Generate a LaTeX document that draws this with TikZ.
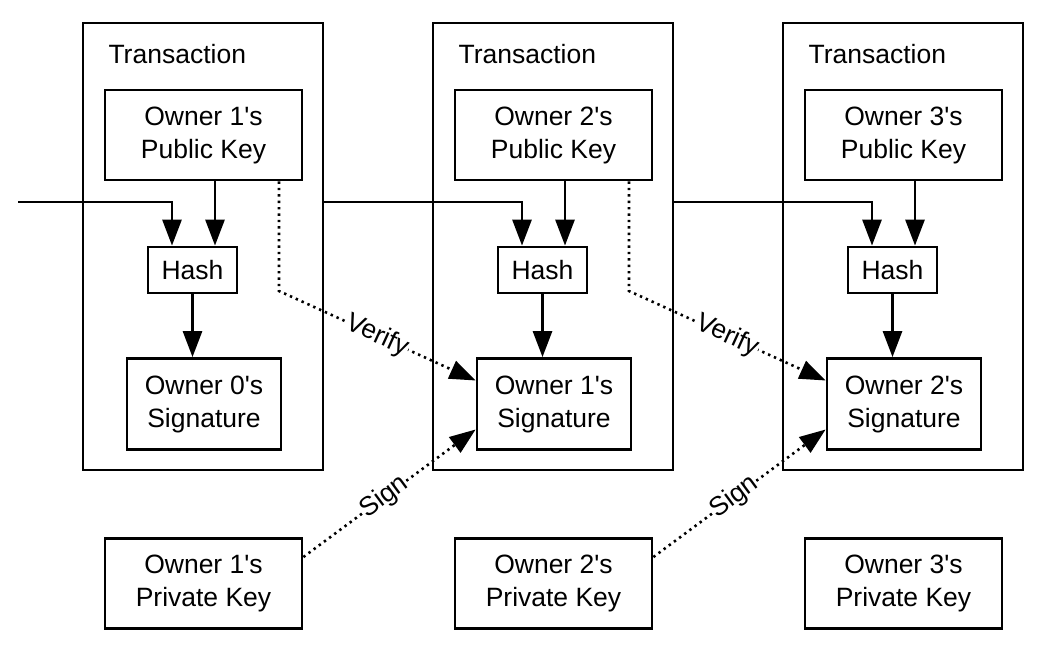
\documentclass[tikz,border=0pt]{standalone}
\usepackage{fontspec}
\setmainfont{Liberation Sans}
\usetikzlibrary{arrows.meta,calc}
\newcommand\tick{\textquotesingle}
\begin{document}
\begin{tikzpicture}[x=1pt,y=-1pt,
  every node/.style={font=\fontsize{26.5}{33}\selectfont},
  frame/.style={draw, line width=2.8pt, minimum width=240pt, minimum height=447pt, inner sep=0pt},
  keybox/.style={draw, line width=2.8pt, minimum width=197pt, minimum height=90pt, align=center, inner sep=0pt},
  hashbox/.style={draw, line width=2.8pt, minimum width=89pt, minimum height=46pt, inner sep=0pt},
  sigbox/.style={draw, line width=2.8pt, minimum width=154pt, minimum height=91pt, align=center, inner sep=0pt},
  flow/.style={line width=2.8pt, -{Triangle[length=26pt,width=19pt]}},
  dots/.style={line width=2.6pt, dash pattern=on 2.4pt off 4pt, -{Triangle[length=26pt,width=19pt]}},
  tag/.style={sloped, fill=white, inner sep=0.5pt}
]
\useasboundingbox (0,0) rectangle (1060,646);

% one transaction block per owner
\foreach \i in {1,2,3}{
  \pgfmathsetmacro\dx{(\i-1)*350}
  \pgfmathtruncatemacro\prev{\i-1}
  \node[frame] (tx\i) at (203+\dx,246.5) {};
  \node[anchor=base west] (title\i) at (105+\dx,63) {Transaction};
  \node[keybox] (pub\i) at (203.5+\dx,135) {Owner \i\tick s\\Public Key};
  \node[hashbox] (hash\i) at (192.5+\dx,270) {Hash};
  \node[sigbox] (sig\i) at (204+\dx,404) {Owner \prev\tick s\\Signature};
  \node[keybox] (priv\i) at (203.5+\dx,583.5) {Owner \i\tick s\\Private Key};
  \coordinate (hin\i) at ([xshift=-20.5]hash\i.north);
  \coordinate (hkey\i) at ([xshift=22.5]hash\i.north);
  \draw[flow] (pub\i.south -| hkey\i) -- (hkey\i);
  \draw[flow] (hash\i.south) -- (hash\i.south |- sig\i.north);
}

% chain of previous transactions feeding each hash
\coordinate (start) at (18,202);
\draw[flow] (start) -| (hin1);
\draw[flow] (tx1.east |- start) -| (hin2);
\draw[flow] (tx2.east |- start) -| (hin3);

% verification with the public key, signing with the private key
\coordinate (bend1) at (279,291);
\coordinate (bend2) at (629,291);
\draw[dots] (pub1.south -| bend1) -- (bend1) -- node[tag] (verify1) {Verify} ([yshift=23.5]sig2.west);
\draw[dots] (pub2.south -| bend2) -- (bend2) -- node[tag] (verify2) {Verify} ([yshift=23.5]sig3.west);
\draw[dots] ([yshift=26.5]priv1.east) -- node[tag,pos=0.47] (sign1) {Sign} ([yshift=-25.5]sig2.west);
\draw[dots] ([yshift=26.5]priv2.east) -- node[tag,pos=0.47] (sign2) {Sign} ([yshift=-25.5]sig3.west);
\end{tikzpicture}
\end{document}
